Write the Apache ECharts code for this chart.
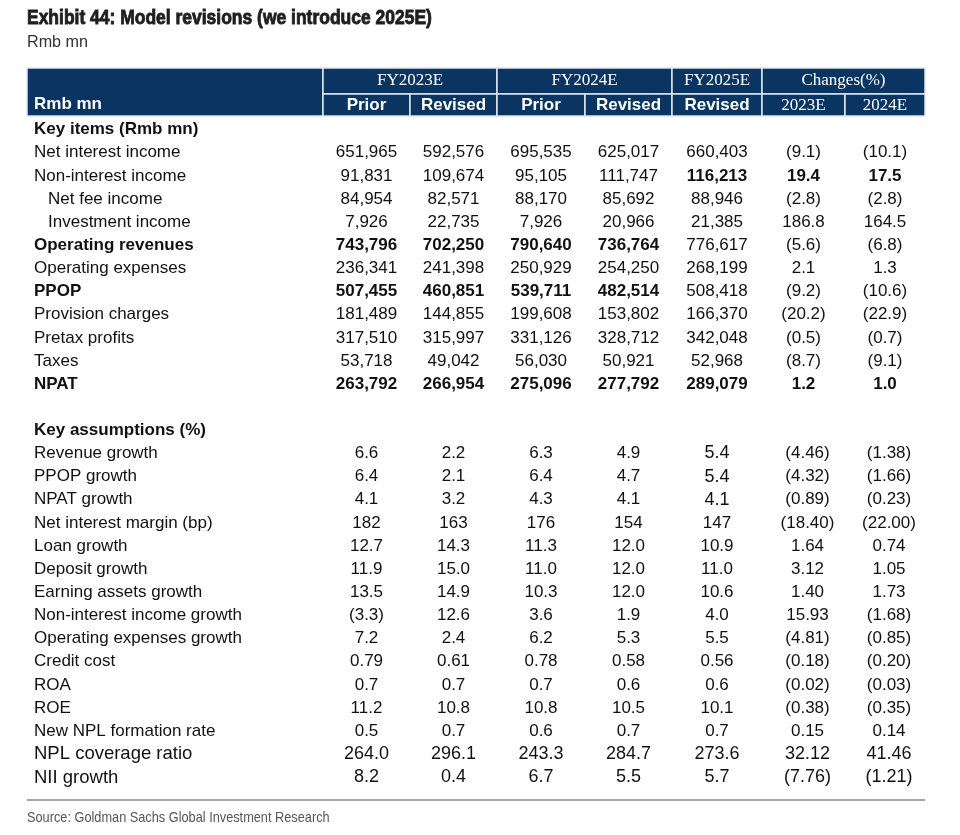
<!DOCTYPE html>
<html><head><meta charset="utf-8">
<script src="https://cdn.jsdelivr.net/npm/echarts@6/dist/echarts.min.js"></script>
<style>html,body{margin:0;padding:0;background:#fff}#c{width:960px;height:835px}</style>
</head><body><div id="c"></div>
<script>
// ---------- DATA ----------
const titleText = 'Exhibit 44: Model revisions (we introduce 2025E)';
const subtitleText = 'Rmb mn';
const sourceText = 'Source: Goldman Sachs Global Investment Research';
const headerCorner = 'Rmb mn';
const columnGroups = ['FY2023E', 'FY2024E', 'FY2025E', 'Changes(%)'];
const columnNames = ['Prior', 'Revised', 'Prior', 'Revised', 'Revised', '2023E', '2024E'];

const keySection = 'Key items (Rmb mn)';
const keyLabels = ['Net interest income', 'Non-interest income', 'Net fee income', 'Investment income', 'Operating revenues', 'Operating expenses', 'PPOP', 'Provision charges', 'Pretax profits', 'Taxes', 'NPAT'];
const keyPrior23 = [651965, 91831, 84954, 7926, 743796, 236341, 507455, 181489, 317510, 53718, 263792];
const keyRevised23 = [592576, 109674, 82571, 22735, 702250, 241398, 460851, 144855, 315997, 49042, 266954];
const keyPrior24 = [695535, 95105, 88170, 7926, 790640, 250929, 539711, 199608, 331126, 56030, 275096];
const keyRevised24 = [625017, 111747, 85692, 20966, 736764, 254250, 482514, 153802, 328712, 50921, 277792];
const keyRevised25 = [660403, 116213, 88946, 21385, 776617, 268199, 508418, 166370, 342048, 52968, 289079];
const keyChange23 = [-9.1, 19.4, -2.8, 186.8, -5.6, 2.1, -9.2, -20.2, -0.5, -8.7, 1.2];
const keyChange24 = [-10.1, 17.5, -2.8, 164.5, -6.8, 1.3, -10.6, -22.9, -0.7, -9.1, 1.0];

const asmSection = 'Key assumptions (%)';
const asmLabels = ['Revenue growth', 'PPOP growth', 'NPAT growth', 'Net interest margin (bp)', 'Loan growth', 'Deposit growth', 'Earning assets growth', 'Non-interest income growth', 'Operating expenses growth', 'Credit cost', 'ROA', 'ROE', 'New NPL formation rate', 'NPL coverage ratio', 'NII growth'];
const asmPrior23 = [6.6, 6.4, 4.1, 182, 12.7, 11.9, 13.5, -3.3, 7.2, 0.79, 0.7, 11.2, 0.5, 264.0, 8.2];
const asmRevised23 = [2.2, 2.1, 3.2, 163, 14.3, 15.0, 14.9, 12.6, 2.4, 0.61, 0.7, 10.8, 0.7, 296.1, 0.4];
const asmPrior24 = [6.3, 6.4, 4.3, 176, 11.3, 11.0, 10.3, 3.6, 6.2, 0.78, 0.7, 10.8, 0.6, 243.3, 6.7];
const asmRevised24 = [4.9, 4.7, 4.1, 154, 12.0, 12.0, 12.0, 1.9, 5.3, 0.58, 0.6, 10.5, 0.7, 284.7, 5.5];
const asmRevised25 = [5.4, 5.4, 4.1, 147, 10.9, 11.0, 10.6, 4.0, 5.5, 0.56, 0.6, 10.1, 0.7, 273.6, 5.7];
const asmChange23 = [-4.46, -4.32, -0.89, -18.40, 1.64, 3.12, 1.40, 15.93, -4.81, -0.18, -0.02, -0.38, 0.15, 32.12, -7.76];
const asmChange24 = [-1.38, -1.66, -0.23, -22.00, 0.74, 1.05, 1.73, -1.68, -0.85, -0.20, -0.03, -0.35, 0.14, 41.46, -1.21];
const asmDecimals = [1, 1, 1, 0, 1, 1, 1, 1, 1, 2, 1, 1, 1, 1, 1];

// ---------- STYLE / LAYOUT ----------
const NAVY = '#0a3562';
const SANS = "'Liberation Sans', Arial, sans-serif";
const SERIF = "'Liberation Serif', 'Times New Roman', serif";
const colEdges = [0, 296, 383, 470, 558, 645, 735, 818, 898];
const groupSpans = [[1, 3], [3, 5], [5, 6], [6, 8]];
const hdrTop = 26, hdrH = 48, rowH = 23.14, rowShift = 2;

function fmtInt(v) { return v.toLocaleString('en-US'); }
function fmtDec(v, d) { const s = Math.abs(v).toFixed(d); return v < 0 ? '(' + s + ')' : s; }

// header cells
const headerCells = [];
headerCells.push({ x0: colEdges[0], x1: colEdges[1], y0: 0, y1: hdrH, text: headerCorner, font: 'bold 17px ' + SANS, align: 'left', tx: colEdges[0] + 7, ty: 36 });
groupSpans.forEach((g, i) => {
  headerCells.push({ x0: colEdges[g[0]], x1: colEdges[g[1]], y0: 0, y1: hdrTop, text: columnGroups[i], font: '17px ' + SERIF, align: 'center', tx: (colEdges[g[0]] + colEdges[g[1]]) / 2, ty: 13 });
});
columnNames.forEach((n, i) => {
  const serif = i >= 5;
  headerCells.push({ x0: colEdges[i + 1], x1: colEdges[i + 2], y0: hdrTop, y1: hdrH, text: n, font: serif ? '17px ' + SERIF : 'bold 17px ' + SANS, align: 'center', tx: (colEdges[i + 1] + colEdges[i + 2]) / 2, ty: 37.5 });
});

// body cells
const bodyCells = [];
function rowY(r) { return hdrH + (r + 0.5) * rowH + rowShift; }
function colX(c) { return (colEdges[c + 1] + colEdges[c + 2]) / 2; }
let r = 0;
bodyCells.push({ x: 7, y: rowY(r), text: keySection, bold: true, align: 'left' });
r++;
const keyCols = [keyPrior23, keyRevised23, keyPrior24, keyRevised24, keyRevised25, keyChange23, keyChange24];
const keyBoldRows = ['Operating revenues', 'PPOP', 'NPAT'];
const keyIndent = ['Net fee income', 'Investment income'];
keyLabels.forEach((lab, i) => {
  const boldRow = keyBoldRows.includes(lab);
  bodyCells.push({ x: keyIndent.includes(lab) ? 21 : 7, y: rowY(r), text: lab, bold: boldRow, align: 'left' });
  keyCols.forEach((arr, c) => {
    const v = arr[i];
    const txt = c < 5 ? fmtInt(v) : fmtDec(v, 1);
    let bold = false;
    if (boldRow && c < 4) bold = true;
    if (lab === 'NPAT') bold = true;
    if (lab === 'Non-interest income' && c >= 4) bold = true;
    bodyCells.push({ x: colX(c), y: rowY(r), text: txt, bold: bold, align: 'center' });
  });
  r++;
});
r++; // blank row
bodyCells.push({ x: 7, y: rowY(r), text: asmSection, bold: true, align: 'left' });
r++;
const asmCols = [asmPrior23, asmRevised23, asmPrior24, asmRevised24, asmRevised25, asmChange23, asmChange24];
asmLabels.forEach((lab, i) => {
  const big = i >= 13;
  bodyCells.push({ x: 7, y: rowY(r), text: lab, bold: false, align: 'left', size: big ? 18.5 : 17 });
  asmCols.forEach((arr, c) => {
    const v = arr[i];
    const txt = c < 5 ? fmtDec(v, asmDecimals[i]) : fmtDec(v, 2);
    const sz = big ? 18 : (c === 4 && i < 3 ? 18 : 17);
    bodyCells.push({ x: colX(c) + (c >= 5 ? 4 : 0), y: rowY(r), text: txt, bold: false, align: 'center', size: sz });
  });
  r++;
});

const chart = echarts.init(document.getElementById('c'), null, { renderer: 'canvas' });
chart.setOption({
  animation: false,
  backgroundColor: '#fff',
  graphic: [
    { type: 'text', x: 27, y: 8, scaleX: 0.832, style: { text: titleText, font: 'bold 21px ' + SANS, fill: '#1e1e1e', stroke: '#1e1e1e', lineWidth: 0.9, textVerticalAlign: 'top' } },
    { type: 'text', x: 27, y: 34, scaleX: 0.95, style: { text: subtitleText, font: '17px ' + SANS, fill: '#333', textVerticalAlign: 'top' } },
    { type: 'rect', x: 27, y: 799, shape: { width: 898, height: 2 }, style: { fill: '#a8a8a8' } },
    { type: 'text', x: 27, y: 810, scaleX: 0.85, style: { text: sourceText, font: '15px ' + SANS, fill: '#555', textVerticalAlign: 'top' } }
  ],
  grid: { left: 27, top: 68, width: 898, height: 767 },
  xAxis: { type: 'value', min: 0, max: 898, show: false },
  yAxis: { type: 'value', min: 0, max: 767, inverse: true, show: false },
  series: [
    {
      type: 'custom', coordinateSystem: 'cartesian2d', clip: false,
      data: headerCells.map((c, i) => [c.x0, c.y0, i]),
      renderItem: function (params, api) {
        const c = headerCells[api.value(2)];
        const p0 = api.coord([c.x0, c.y0]);
        const p1 = api.coord([c.x1, c.y1]);
        const t = api.coord([c.tx, c.ty]);
        return {
          type: 'group', children: [
            { type: 'rect', shape: { x: p0[0], y: p0[1], width: p1[0] - p0[0], height: p1[1] - p0[1] }, style: { fill: NAVY, stroke: '#dfe6ee', lineWidth: 1.5 } },
            { type: 'text', x: t[0], y: t[1], style: { text: c.text, font: c.font, fill: '#fff', align: c.align, verticalAlign: 'middle' } }
          ]
        };
      }
    },
    {
      type: 'custom', coordinateSystem: 'cartesian2d', clip: false,
      data: bodyCells.map((c, i) => [c.x, c.y, i]),
      renderItem: function (params, api) {
        const c = bodyCells[api.value(2)];
        const p = api.coord([c.x, c.y]);
        return {
          type: 'text', x: p[0], y: p[1],
          style: { text: c.text, font: (c.bold ? 'bold ' : '') + (c.size || 17) + 'px ' + SANS, fill: '#111', align: c.align, verticalAlign: 'middle' }
        };
      }
    }
  ]
});
</script></body></html>
